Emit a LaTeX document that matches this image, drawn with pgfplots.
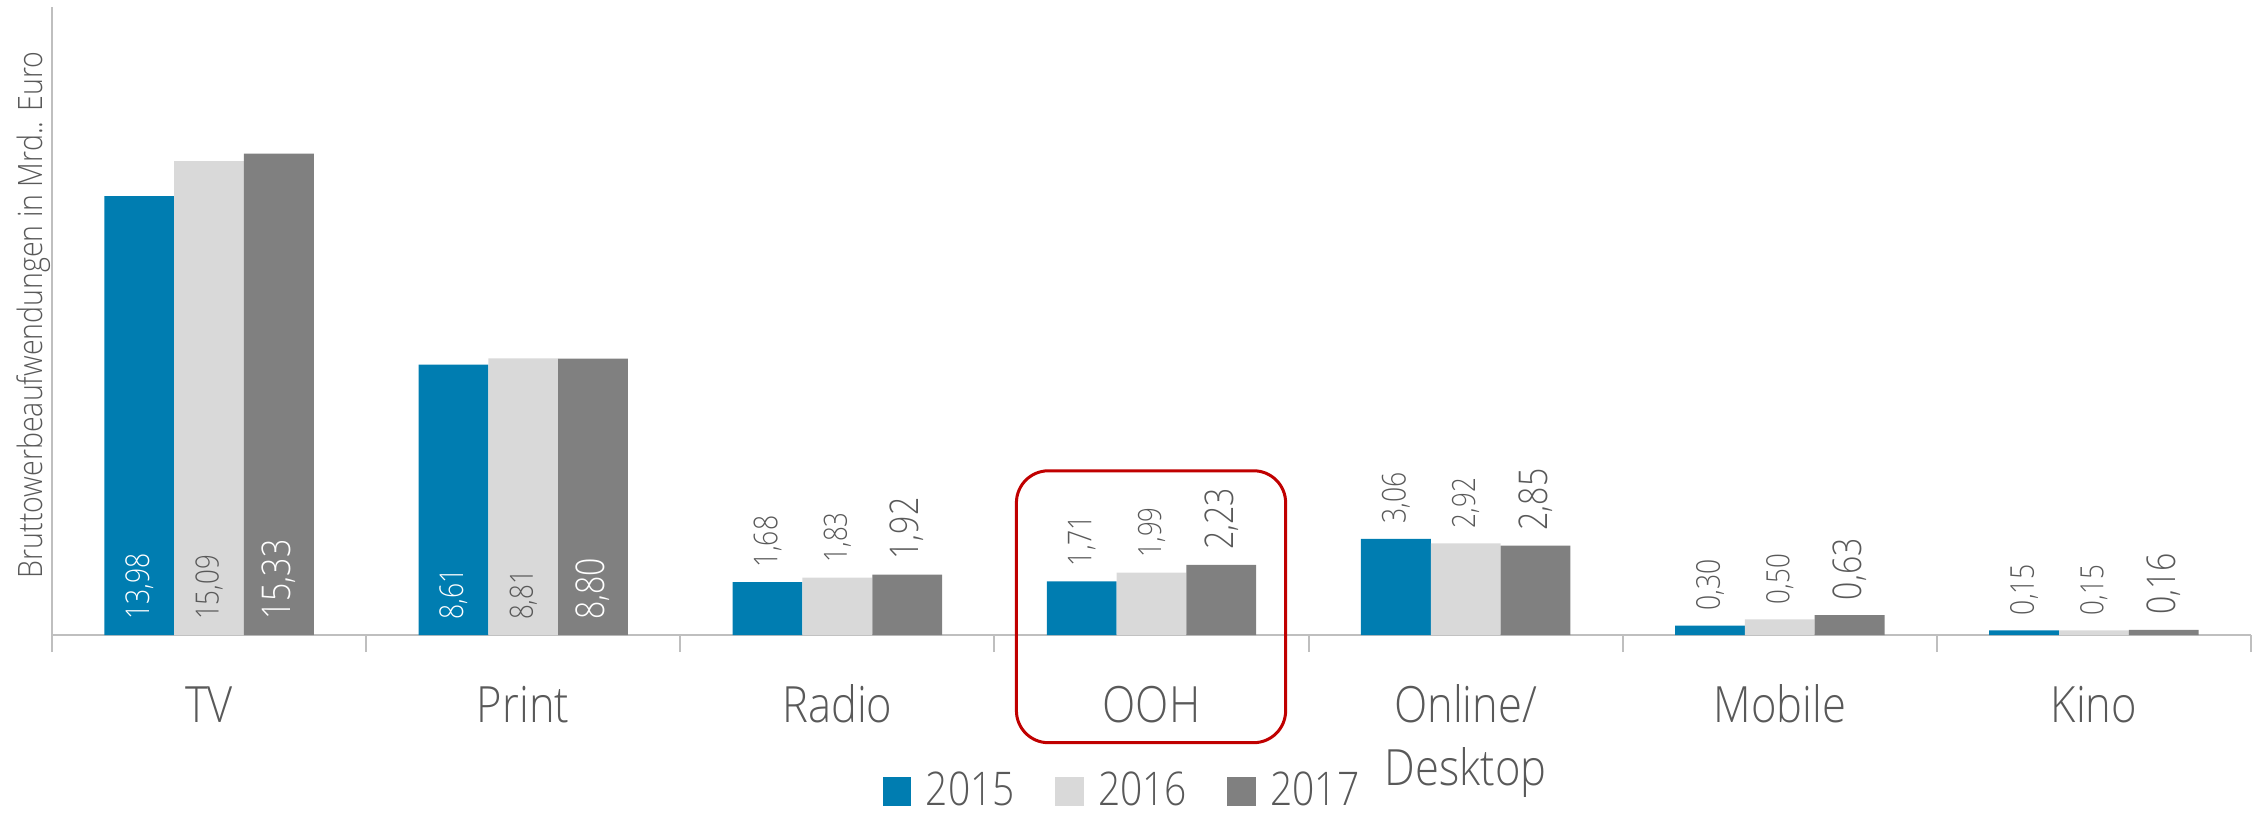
\documentclass[border=0pt]{standalone}
\usepackage{pgfplots}
\pgfplotsset{compat=1.18}
\usepackage{graphicx}
\usepackage{fontspec}
\setmainfont{Open Sans Light}
\setsansfont{Open Sans Light}
\definecolor{c2015}{HTML}{007DB1}
\definecolor{c2016}{HTML}{D9D9D9}
\definecolor{c2017}{HTML}{808080}
\definecolor{txt}{HTML}{595959}
\definecolor{axgrey}{HTML}{BFBFBF}
\definecolor{boxred}{HTML}{C00000}
\newcommand{\sq}[2][0.86]{\scalebox{#1}[1]{#2}}
\newcommand{\lblA}{\fontsize{8.2bp}{9.8bp}\selectfont}
\newcommand{\lblB}{\fontsize{8.0bp}{9.6bp}\selectfont}
\newcommand{\lblC}{\fontsize{9.9bp}{12bp}\selectfont}
\pgfplotsset{
  lbl/.style={draw=none, fill=none, forget plot,
    nodes near coords={\sq[0.81]{\pgfmathprintnumber[fixed,fixed zerofill,precision=2,use comma,assume math mode=true]{\pgfplotspointmeta}}},
    every node near coord/.append style={rotate=90, anchor=west, inner xsep=3.6bp, inner ysep=0pt}},
}
\begin{document}
\begin{tikzpicture}
\begin{axis}[
  at={(0bp,0bp)}, anchor=south west,
  scale only axis, width=549.75bp, height=157bp,
  xmin=-0.5, xmax=6.5, ymin=0, ymax=20,
  ybar, bar width=0.2222,
  axis x line=bottom, axis y line=left,
  axis line style={-, draw=axgrey, line width=0.5bp},
  ytick=\empty,
  xtick={0,...,6},
  xticklabels={\sq[0.87]{\strut TV},\sq[0.87]{\strut Print},\sq[0.87]{\strut Radio},\sq[0.87]{\strut OOH},{\sq[0.87]{\begin{tabular}{@{}c@{}}Online/\\Desktop\end{tabular}}},\sq[0.87]{\strut Mobile},\sq[0.87]{\strut Kino}},
  minor xtick={-0.5,0.5,...,6.5},
  xtick align=outside,
  major tick length=0pt, minor tick length=4.25bp,
  tick style={draw=axgrey, line width=0.5bp},
  xticklabel style={anchor=north, inner sep=0pt, yshift=-10.75bp, font=\fontsize{12.5bp}{15.75bp}\selectfont, text=txt},
  ylabel={\sq[0.85]{Bruttowerbeaufwendungen in Mrd.. Euro}},
  ylabel style={at={(axis description cs:-0.00455,0.5096)}, anchor=base, font=\fontsize{8.4bp}{10bp}\selectfont, text=txt},
  legend columns=3,
  legend style={at={(axis description cs:0.3774,-0.283)}, anchor=south west, draw=none, fill=none, inner sep=0pt,
    font=\fontsize{11.6bp}{13.9bp}\selectfont, text=txt,
    cells={anchor=base west}, nodes={inner sep=0pt},
    /tikz/every odd column/.append style={column sep=3.6bp},
    /tikz/every even column/.append style={column sep=10bp}},
  legend image code/.code={\fill[#1] (0bp,0bp) rectangle (7.2bp,7.2bp);},
  clip=false,
]
\addplot[fill=c2015, draw=none, bar shift=-0.2222] coordinates {(0,13.98) (1,8.61) (2,1.68) (3,1.71) (4,3.06) (5,0.30) (6,0.15)};
\addlegendentry{\sq[0.84]{2015}}
\addplot[fill=c2016, draw=none, bar shift=0] coordinates {(0,15.09) (1,8.81) (2,1.83) (3,1.99) (4,2.92) (5,0.50) (6,0.15)};
\addlegendentry{\sq[0.84]{2016}}
\addplot[fill=c2017, draw=none, bar shift=0.2222] coordinates {(0,15.33) (1,8.80) (2,1.92) (3,2.23) (4,2.85) (5,0.63) (6,0.16)};
\addlegendentry{\sq[0.84]{2017}}
% labels above bars
\addplot[lbl, bar shift=-0.2222, every node near coord/.append style={font=\lblA, text=txt}] coordinates {(2,1.68) (3,1.71) (4,3.06) (5,0.30) (6,0.15)};
\addplot[lbl, bar shift=0, every node near coord/.append style={font=\lblB, text=txt}] coordinates {(2,1.83) (3,1.99) (4,2.92) (5,0.50) (6,0.15)};
\addplot[lbl, bar shift=0.2222, every node near coord/.append style={font=\lblC, text=txt}] coordinates {(2,1.92) (3,2.23) (4,2.85) (5,0.63) (6,0.16)};
% labels inside base
\addplot[lbl, bar shift=-0.2222, point meta=explicit, every node near coord/.append style={font=\lblA, text=white}] coordinates {(0,0) [13.98] (1,0) [8.61]};
\addplot[lbl, bar shift=0, point meta=explicit, every node near coord/.append style={font=\lblB, text=txt}] coordinates {(0,0) [15.09] (1,0) [8.81]};
\addplot[lbl, bar shift=0.2222, point meta=explicit, every node near coord/.append style={font=\lblC, text=white}] coordinates {(0,0) [15.33] (1,0) [8.80]};
\draw[boxred, line width=0.75bp, rounded corners=8bp] (axis cs:2.570,5.23) rectangle (axis cs:3.427,-3.43);
\end{axis}
\pgfresetboundingbox
\useasboundingbox (-13bp,-45.75bp) rectangle (553bp,158.75bp);
\end{tikzpicture}
\end{document}
